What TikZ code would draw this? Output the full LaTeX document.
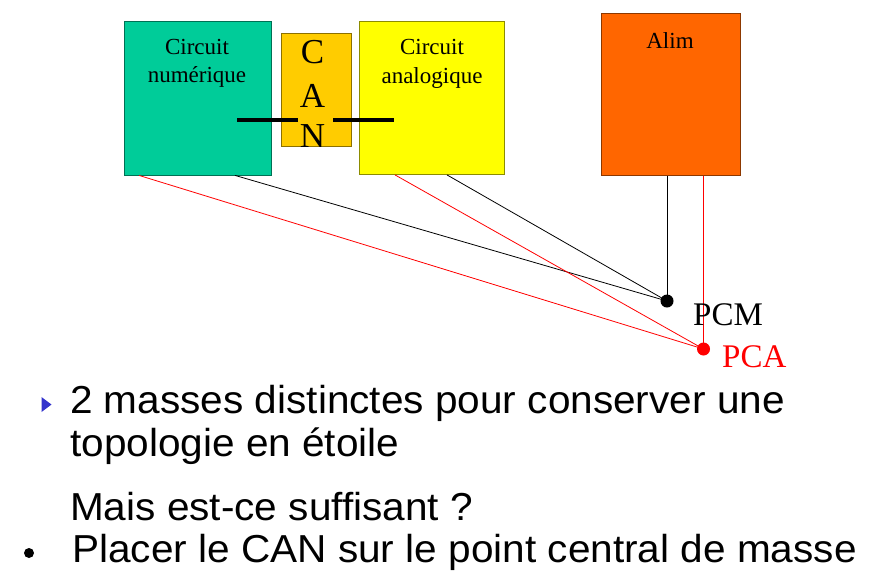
\documentclass[tikz,border=0pt]{standalone}
\usepackage{fontspec}
\setmainfont{Liberation Serif}
\newfontfamily\slidesans{Liberation Sans}
\usetikzlibrary{calc}
\definecolor{numgreen}{HTML}{00CC99}
\definecolor{cangold}{HTML}{FFCC00}
\definecolor{anayellow}{HTML}{FFFF00}
\definecolor{alimorange}{HTML}{FF6600}
\definecolor{bulletblue}{HTML}{3333CC}
\definecolor{pcared}{HTML}{FF0000}
\newcommand{\bodyline}[1]{\scalebox{1.04}[1]{#1}}
\tikzset{
  block/.style={draw=#1!55!black, fill=#1, line width=0.9pt, inner sep=0pt, anchor=north west},
  blocklabel/.style={inner sep=0pt, anchor=base, align=center, font=\fontsize{23}{28.5}\selectfont},
  canletter/.style={inner sep=0pt, anchor=base, font=\fontsize{35}{35}\selectfont},
  wire/.style={line width=4pt, black},
  gndblack/.style={line width=0.8pt, black},
  gndred/.style={line width=0.8pt, pcared},
  gnddot/.style={circle, fill=#1, inner sep=0pt, minimum size=13pt},
  gndlabel/.style={inner sep=0pt, anchor=base west, font=\fontsize{33}{33}\selectfont},
  bodytext/.style={inner sep=0pt, anchor=base west, font=\slidesans\fontsize{39}{43}\selectfont},
}
\begin{document}
\begin{tikzpicture}[x=1pt, y=-1pt]
  \useasboundingbox (0,0) rectangle (893,576);

  % blocks
  \node[block=numgreen, minimum width=147pt, minimum height=154pt] (num) at (124,20.5) {};
  \node[block=cangold, minimum width=69.5pt, minimum height=113.5pt] (can) at (281,32.5) {};
  \node[block=anayellow, minimum width=145pt, minimum height=153pt] (ana) at (359,21) {};
  \node[block=alimorange, minimum width=139.5pt, minimum height=161.5pt] (alim) at (600.5,13.3) {};

  % block labels (anchored on the baseline of the last line)
  \node[blocklabel] (numtxt) at (197,82.7) {Circuit\\num\'erique};
  \node[blocklabel] (anatxt) at (432,83) {Circuit\\analogique};
  \node[blocklabel] (alimtxt) at (670,48) {Alim};
  \node[canletter] (canc) at (312.5,63) {C};
  \node[canletter] (cana) at (312.5,107) {A};
  \node[canletter] (cann) at (312.5,147) {N};

  % signal wires through the converter
  \coordinate (wl1) at (237,119.5);
  \coordinate (wl2) at (298,119.5);
  \coordinate (wr1) at (333,119.5);
  \coordinate (wr2) at (394,119.5);
  \draw[wire] (wl1) -- (wl2);
  \draw[wire] (wr1) -- (wr2);

  % ground points
  \node[gnddot=black] (pcm) at (667,301) {};
  \node[gnddot=pcared] (pca) at (703.5,349) {};

  % star grounding
  \draw[gndblack] ([xshift=111pt]num.south west) -- (pcm.center);
  \draw[gndblack] ([xshift=88pt]ana.south west) -- (pcm.center);
  \draw[gndblack] ([xshift=66.5pt]alim.south west) -- (pcm.center);
  \draw[gndred] ([xshift=15pt]num.south west) -- (pca.center);
  \draw[gndred] ([xshift=36pt]ana.south west) -- (pca.center);
  \draw[gndred] ([xshift=103pt]alim.south west) -- (pca.center);

  \node[gndlabel] (pcmtxt) at (693,325) {PCM};
  \node[gndlabel, text=pcared] (pcatxt) at (722,367) {PCA};

  % bullet text
  \fill[bulletblue] (41.5,397) -- (51.5,404.5) -- (41.5,412) -- cycle;
  \node[bodytext] (l1) at (70,413.3) {\bodyline{2 masses distinctes pour conserver une}};
  \node[bodytext] (l2) at (70,456) {\bodyline{topologie en \'etoile}};
  \node[bodytext] (l3) at (70,520) {\bodyline{Mais est-ce suffisant ?}};
  \fill[black] (29,553) circle (5pt);
  \node[bodytext] (l4) at (72,562.3) {\bodyline{Placer le CAN sur le point central de masse}};
\end{tikzpicture}
\end{document}
